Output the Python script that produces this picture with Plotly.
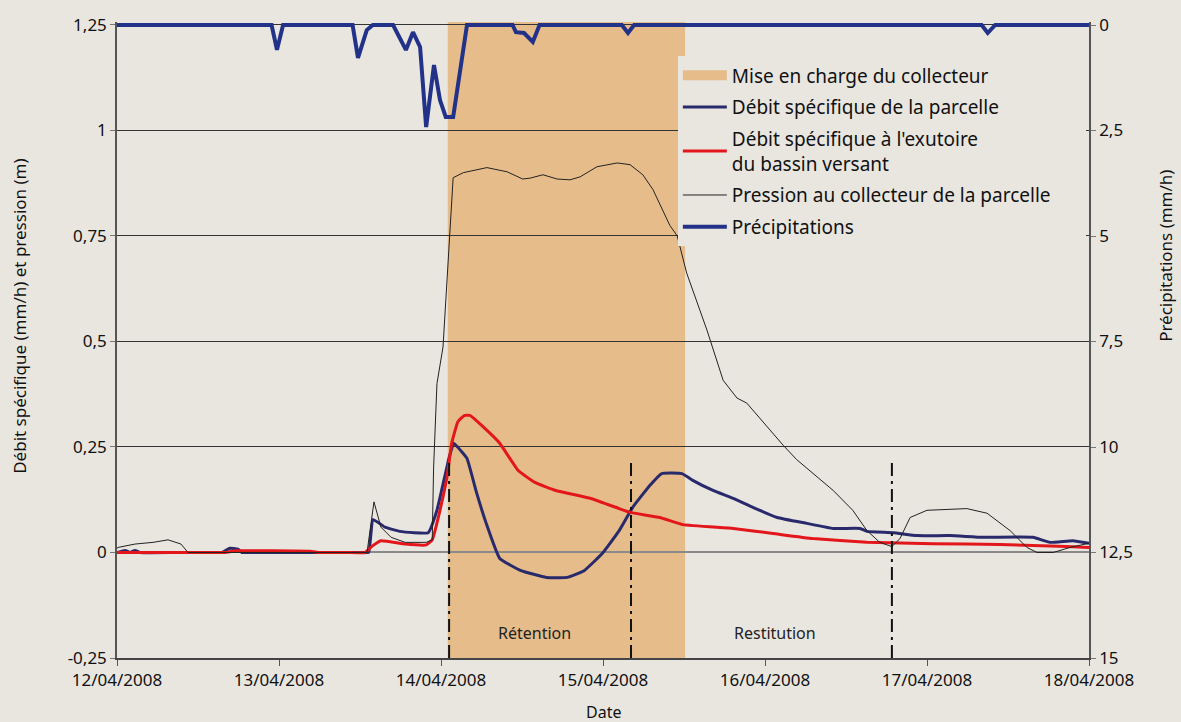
import pandas as pd
import plotly.graph_objects as go

BASE = pd.Timestamp("2008-04-12 00:00")

# ---- data (hours since 12/04/2008 00:00) ----
precip_h = [0, 22.9, 23.7, 24.6, 34.9, 35.7, 37.0, 37.9, 40.9, 42.8, 43.85, 44.9, 45.8, 46.96,
            47.85, 48.7, 49.8, 51.1, 51.85, 58.6, 59.1, 60.3, 61.6, 62.6, 74.8, 75.7, 76.6,
            128.1, 129.0, 130.1, 144]
precip_v = [0, 0, 0.59, 0, 0, 0.78, 0.12, 0, 0, 0.59, 0.17, 0.52, 2.42, 0.95,
            1.78, 2.18, 2.18, 0.78, 0, 0, 0.17, 0.19, 0.40, 0, 0, 0.19, 0,
            0, 0.19, 0, 0]

pression_h = [0, 0.15, 2.67, 5.33, 7.56, 9.48, 10.52, 37.04, 38.07, 39.1, 40.6, 42.7, 45.8, 46.7,
              46.9, 47.4, 48.3, 48.9, 49.3, 49.8, 51.3, 54.8, 57.8, 60.1, 61.2, 63.1, 65.2, 67.1,
              68.6, 71.1, 74.1, 76.0, 77.9, 79.4, 81.9, 83.0, 84.4, 87.4, 89.8, 91.85, 93.3, 96.3,
              98.7, 100.7, 106.1, 109.0, 111.1, 113.0, 114.8, 116.0, 117.5, 120.0, 125.9, 128.9,
              132.3, 134.8, 136.3, 138.7, 141.2, 144]
pression_v = [0.01, 0.012, 0.02, 0.024, 0.03, 0.02, 0.0, 0.0, 0.12, 0.06, 0.036, 0.024, 0.024, 0.03,
              0.2, 0.40, 0.487, 0.65, 0.755, 0.888, 0.90, 0.912, 0.902, 0.885, 0.887, 0.895, 0.885, 0.883,
              0.89, 0.914, 0.923, 0.919, 0.895, 0.86, 0.775, 0.75, 0.662, 0.527, 0.408, 0.366, 0.354, 0.297,
              0.254, 0.22, 0.147, 0.10, 0.052, 0.024, 0.014, 0.033, 0.083, 0.10, 0.104, 0.093,
              0.052, 0.012, 0.0, 0.0, 0.012, 0.022]

parcelle_h = [0, 1.19, 1.93, 2.67, 3.4, 9.0, 15.0, 15.6, 16.7, 17.9, 18.5, 19.2, 28.0, 36.8, 37.3,
              37.93, 39.7, 41.9, 46.1, 47.4, 49.2, 49.9, 51.0, 51.85, 53.3, 54.7, 56.7, 59.85, 63.6,
              66.7, 69.2, 71.85, 74.4, 76.4, 79.0, 80.7, 83.7, 85.3, 88.3, 91.3, 94.2, 97.8, 102.2,
              106.1, 110.1, 111.1, 115.0, 118.5, 123.4, 128.3, 135.7, 138.2, 141.6, 144]
parcelle_v = [0, 0.005, 0, 0.005, 0, 0, 0, 0, 0.01, 0.008, 0, 0, 0, 0, 0,
              0.078, 0.06, 0.05, 0.047, 0.10, 0.225, 0.259, 0.24, 0.223, 0.14, 0.069, -0.014, -0.043, -0.059,
              -0.059, -0.043, -0.003, 0.052, 0.107, 0.16, 0.187, 0.187, 0.171, 0.147, 0.128, 0.107, 0.083, 0.069,
              0.057, 0.057, 0.05, 0.047, 0.04, 0.04, 0.036, 0.036, 0.024, 0.028, 0.022]

exutoire_h = [0, 10.0, 16.0, 17.5, 28.6, 30.1, 34.0, 36.74, 37.8, 39.1, 42.7, 45.8, 46.7, 47.85,
              48.9, 49.6, 50.5, 51.5, 52.3, 54.1, 56.7, 59.4, 61.9, 65.0, 70.2, 74.4, 76.0, 80.4,
              83.85, 91.3, 97.2, 103.1, 111.1, 120.9, 130.8, 140.7, 144]
exutoire_v = [0, 0, 0, 0.004, 0.003, 0, 0, 0, 0.015, 0.028, 0.02, 0.018, 0.03, 0.10,
              0.18, 0.26, 0.31, 0.325, 0.325, 0.30, 0.259, 0.195, 0.166, 0.147, 0.128, 0.104, 0.095, 0.083,
              0.066, 0.057, 0.045, 0.033, 0.024, 0.021, 0.019, 0.014, 0.012]

charge_start = "2008-04-14 01:00"
charge_end = "2008-04-15 12:10"
phase_h = [49.2, 76.15, 114.8]

left_ticks = [-0.25, 0, 0.25, 0.5, 0.75, 1, 1.25]
left_labels = ["-0,25", "0", "0,25", "0,5", "0,75", "1", "1,25"]
right_ticks = [0, 2.5, 5, 7.5, 10, 12.5, 15]
right_labels = ["0", "2,5", "5", "7,5", "10", "12,5", "15"]
date_ticks = ["2008-04-12", "2008-04-13", "2008-04-14", "2008-04-15", "2008-04-16",
              "2008-04-17", "2008-04-18"]

# ---- styles ----
BG = "#E9E6E0"
SHADE = "#E6BD8A"
FONT = "Noto Sans"
Y_MIN, Y_MAX = -0.25, 1.257
Y2_MIN, Y2_MAX = 15, -0.071
PAD = "\u00a0" * 6


def t(hours):
    return BASE + pd.to_timedelta(hours, unit="h")


fig = go.Figure()

# legend key for the shaded period
fig.add_trace(go.Scatter(x=[None], y=[None], mode="lines", name="Mise en charge du collecteur",
                         line=dict(color=SHADE, width=13), legendgroup="a"))
fig.add_trace(go.Scatter(x=t(parcelle_h), y=parcelle_v, mode="lines",
                         name="Débit spécifique de la parcelle",
                         line=dict(color="#282A6C", width=3, shape="spline", smoothing=0.35),
                         legendgroup="b"))
fig.add_trace(go.Scatter(x=t(exutoire_h), y=exutoire_v, mode="lines",
                         name="Débit spécifique à l'exutoire<br>du bassin versant",
                         line=dict(color="#E3161B", width=3, shape="spline", smoothing=0.35),
                         legendgroup="c"))
fig.add_trace(go.Scatter(x=t(pression_h), y=pression_v, mode="lines",
                         name="Pression au collecteur de la parcelle" + PAD,
                         line=dict(color="#222222", width=1), legendgroup="d"))
fig.add_trace(go.Scatter(x=t(precip_h), y=precip_v, mode="lines", name="Précipitations",
                         line=dict(color="#233289", width=4), yaxis="y2", legendgroup="e"))

fig.add_shape(type="rect", xref="x", yref="paper", x0=charge_start, x1=charge_end, y0=0, y1=1,
              fillcolor=SHADE, line=dict(width=0), layer="between")

for h in phase_h:
    fig.add_shape(type="line", xref="x", yref="y", x0=t(h), x1=t(h), y0=-0.25, y1=0.22,
                  line=dict(color="#111111", width=2, dash="13px,5px,3px,5px"), layer="above")

fig.add_annotation(text="Rétention", x=t(61.9), y=-0.19, xref="x", yref="y", showarrow=False,
                   xanchor="center", yanchor="middle", font=dict(size=16, color="#222"))
fig.add_annotation(text="Restitution", x=t(97.5), y=-0.19, xref="x", yref="y", showarrow=False,
                   xanchor="center", yanchor="middle", font=dict(size=16, color="#222"))

fig.add_annotation(text="Débit spécifique (mm/h) et pression (m)", textangle=-90,
                   xref="paper", yref="paper", x=-0.0998, y=0.538, showarrow=False,
                   xanchor="center", yanchor="middle", font=dict(size=17, color="#111"))
fig.add_annotation(text="Précipitations (mm/h)", textangle=-90,
                   xref="paper", yref="paper", x=1.078, y=0.632, showarrow=False,
                   xanchor="center", yanchor="middle", font=dict(size=17, color="#111"))
fig.add_annotation(text="Date", xref="paper", yref="paper", x=0.5, y=-0.085, showarrow=False,
                   xanchor="center", yanchor="middle", font=dict(size=16, color="#111"))

fig.update_layout(
    width=1181, height=722,
    margin=dict(l=117, r=92, t=22, b=64),
    paper_bgcolor=BG, plot_bgcolor=BG,
    font=dict(family=FONT, size=17, color="#111"),
    showlegend=True,
    legend=dict(x=0.577, y=0.946, xanchor="left", yanchor="top", bgcolor=BG,
                font=dict(size=19, color="#111"), traceorder="grouped", tracegroupgap=4,
                itemwidth=44),
    xaxis=dict(type="date", range=["2008-04-12", "2008-04-18"], tickvals=date_ticks,
               tickformat="%d/%m/%Y", ticks="outside", ticklen=6, tickcolor="#555",
               showline=True, linecolor="#444", linewidth=1.5, showgrid=False, zeroline=False,
               tickfont=dict(size=17)),
    yaxis=dict(range=[Y_MIN, Y_MAX], tickvals=left_ticks, ticktext=left_labels,
               ticks="outside", ticklen=5, tickcolor="#777", showline=True, linecolor="#555",
               linewidth=1.5, showgrid=True, gridcolor="#333333", gridwidth=1,
               zeroline=True, zerolinecolor="#8a8a8a", zerolinewidth=1.5,
               tickfont=dict(size=17)),
    yaxis2=dict(range=[Y2_MIN, Y2_MAX], tickvals=right_ticks, ticktext=right_labels,
                overlaying="y", side="right", ticks="outside", ticklen=5, tickcolor="#777",
                showline=True, linecolor="#555", linewidth=1.5, showgrid=False, zeroline=False,
                tickfont=dict(size=17)),
)

fig.write_html("out.html", config={"displayModeBar": False},
               post_script="document.body.style.margin='0px';")
